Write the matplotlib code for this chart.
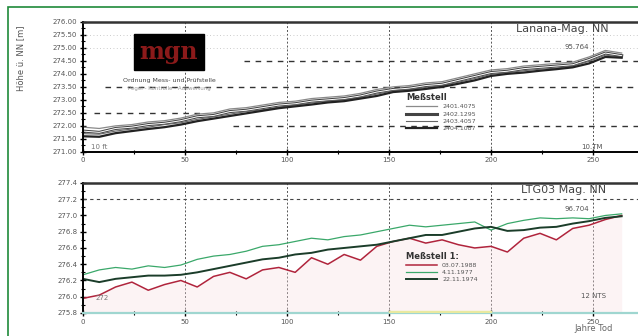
import matplotlib.pyplot as plt
from matplotlib.patches import Rectangle

# days since start of record
days = [0, 8, 16, 24, 32, 40, 48, 56, 64, 72, 80, 88, 96, 104, 112, 120, 128,
        136, 144, 152, 160, 168, 176, 184, 192, 200, 208, 216, 224, 232, 240,
        248, 256, 264]

# upper panel: water levels of four gauges (m NN)
gauge_a = [271.95, 271.90, 272.00, 272.05, 272.15, 272.20, 272.30, 272.45, 272.50,
           272.65, 272.70, 272.80, 272.90, 272.95, 273.05, 273.10, 273.15, 273.25,
           273.40, 273.50, 273.55, 273.65, 273.70, 273.85, 274.00, 274.15, 274.20,
           274.30, 274.35, 274.40, 274.45, 274.65, 274.90, 274.80]
gauge_b = [271.80, 271.75, 271.90, 271.95, 272.05, 272.10, 272.20, 272.35, 272.40,
           272.55, 272.60, 272.70, 272.80, 272.85, 272.95, 273.00, 273.05, 273.15,
           273.30, 273.40, 273.45, 273.55, 273.60, 273.75, 273.90, 274.05, 274.10,
           274.20, 274.25, 274.30, 274.35, 274.55, 274.80, 274.70]
gauge_c = [271.70, 271.68, 271.80, 271.88, 271.95, 272.05, 272.12, 272.25, 272.35,
           272.45, 272.55, 272.62, 272.72, 272.80, 272.88, 272.95, 273.00, 273.10,
           273.22, 273.35, 273.40, 273.48, 273.55, 273.68, 273.82, 273.98, 274.05,
           274.12, 274.18, 274.22, 274.30, 274.48, 274.72, 274.65]
gauge_d = [271.60, 271.58, 271.72, 271.80, 271.88, 271.95, 272.05, 272.18, 272.28,
           272.38, 272.48, 272.58, 272.68, 272.75, 272.82, 272.90, 272.95, 273.05,
           273.15, 273.30, 273.35, 273.42, 273.50, 273.62, 273.75, 273.92, 274.00,
           274.05, 274.12, 274.18, 274.25, 274.40, 274.65, 274.62]
upper_labels = ['2401.4075', '2402.1295', '2403.4057', '2404.1087']

# lower panel: gauge 1 in three different years
year_red = [275.98, 276.02, 276.12, 276.18, 276.08, 276.15, 276.20, 276.12, 276.25,
            276.30, 276.22, 276.33, 276.36, 276.30, 276.48, 276.40, 276.52, 276.45,
            276.62, 276.68, 276.72, 276.66, 276.70, 276.64, 276.60, 276.62, 276.55,
            276.72, 276.78, 276.70, 276.84, 276.88, 276.95, 277.00]
year_light = [276.27, 276.33, 276.36, 276.34, 276.38, 276.36, 276.39, 276.46, 276.50,
              276.52, 276.56, 276.62, 276.64, 276.68, 276.72, 276.70, 276.74, 276.76,
              276.80, 276.84, 276.88, 276.86, 276.88, 276.90, 276.92, 276.82, 276.90,
              276.94, 276.97, 276.96, 276.97, 276.96, 277.00, 277.02]
year_dark = [276.22, 276.18, 276.22, 276.24, 276.26, 276.26, 276.27, 276.30, 276.34,
             276.38, 276.42, 276.46, 276.48, 276.52, 276.54, 276.58, 276.60, 276.62,
             276.64, 276.68, 276.72, 276.76, 276.76, 276.80, 276.84, 276.86, 276.81,
             276.82, 276.85, 276.86, 276.90, 276.93, 276.97, 276.99]
lower_labels = ['03.07.1988', '4.11.1977', '22.11.1974']

upper_ticks = [271.0, 271.5, 272.0, 272.5, 273.0, 273.5, 274.0, 274.5, 275.0, 275.5, 276.0]
lower_ticks = [275.8, 276.0, 276.2, 276.4, 276.6, 276.8, 277.0, 277.2, 277.4]
x_ticks = [0, 50, 100, 150, 200, 250]

plt.rcParams['font.family'] = 'DejaVu Sans'
fig = plt.figure(figsize=(6.38, 3.36), dpi=100)
fig.patch.set_facecolor('white')

# green frame, only its top and left edges fall on the sheet
fig.patches.append(Rectangle((8 / 638, -0.05), 1.0, 1 - 7 / 336 + 0.05, transform=fig.transFigure,
                             fill=False, edgecolor='#1f8a3a', linewidth=1.2))

ax1 = fig.add_axes([0.130, 0.548, 0.870, 0.387])
ax2 = fig.add_axes([0.130, 0.0685, 0.870, 0.387])

for ax in (ax1, ax2):
    ax.set_xlim(0, 272)
    ax.set_xticks(x_ticks)
    ax.set_xticks([25, 75, 125, 175, 225], minor=True)
    ax.spines['right'].set_visible(False)
    ax.spines['top'].set_linewidth(1.8)
    ax.spines['top'].set_color('#333333')
    ax.spines['left'].set_linewidth(1.4)
    ax.tick_params(axis='both', labelsize=5, labelcolor='#555555', length=4, width=1.0,
                   direction='inout', pad=2)
    ax.tick_params(which='minor', length=3, width=0.8, direction='inout')
    for x in x_ticks[1:]:
        ax.axvline(x, color='#555555', linewidth=0.7, linestyle=(0, (2, 2)), zorder=1)

# upper panel
ax1.set_ylim(271.0, 276.0)
ax1.set_yticks(upper_ticks)
ax1.set_yticklabels(['%.2f' % v for v in upper_ticks])
ax1.set_yticks([v + 0.25 for v in upper_ticks[:-1]], minor=True)
ax1.spines['bottom'].set_linewidth(1.4)
ax1.axhline(274.5, xmin=0.29, xmax=1, color='#333333', linewidth=1.0, linestyle=(0, (4, 4)))
ax1.axhline(273.5, xmin=0.04, xmax=1, color='#333333', linewidth=1.0, linestyle=(0, (4, 4)))
ax1.axhline(272.5, xmin=0.02, xmax=0.22, color='#333333', linewidth=1.0, linestyle=(0, (4, 4)))
ax1.axhline(272.0, xmin=0.27, xmax=1, color='#333333', linewidth=1.0, linestyle=(0, (4, 4)))
for v in (275.5, 275.0):
    ax1.axhline(v, color='#bbbbbb', linewidth=0.6, linestyle=(0, (1, 3)))

ax1.plot(days, gauge_a, color='#8a8a8a', linewidth=0.9, label=upper_labels[0])
ax1.plot(days, gauge_b, color='#444444', linewidth=2.2, label=upper_labels[1])
ax1.plot(days, gauge_b, color='white', linewidth=0.7)
ax1.plot(days, gauge_c, color='#666666', linewidth=0.8, label=upper_labels[2])
ax1.plot(days, gauge_d, color='#222222', linewidth=1.6, label=upper_labels[3])
leg1 = ax1.legend(loc='upper left', bbox_to_anchor=(0.575, 0.48), frameon=False,
                  fontsize=4.5, title='Meßstell', title_fontsize=6, handlelength=5,
                  labelspacing=0.3, borderpad=0.1, alignment='left')
leg1.get_title().set_fontweight('bold')
leg1.get_title().set_color('#333333')
for t in leg1.get_texts():
    t.set_color('#555555')

ax1.set_ylabel('Höhe ü. NN [m]', fontsize=6, color='#555555', labelpad=8)
ax1.yaxis.set_label_coords(-0.105, 0.72)
ax1.text(0.78, 0.985, 'Lanana-Mag. NN', transform=ax1.transAxes, ha='left', va='top',
         fontsize=8, color='#444444', clip_on=False)
ax1.text(236, 274.95, '95.764', fontsize=5, color='#555555')
ax1.text(244, 271.1, '10.TM', fontsize=5, color='#555555')
ax1.text(4, 271.1, '10 ft', fontsize=5, color='#777777')

# logo block
ax1.text(0.155, 0.77, 'mgn', transform=ax1.transAxes, ha='center', va='center',
         fontsize=17, color='#8b1a1a', fontweight='bold', family='serif',
         bbox=dict(boxstyle='square,pad=0.25', facecolor='black', edgecolor='black'))
ax1.text(0.155, 0.55, 'Ordnung Mess- und Prüfstelle', transform=ax1.transAxes,
         ha='center', va='center', fontsize=4.5, color='#444444')
ax1.text(0.155, 0.49, 'Pegel - Kontrolle - Auswertung', transform=ax1.transAxes,
         ha='center', va='center', fontsize=4, color='#999999')

# lower panel
ax2.set_ylim(275.8, 277.4)
ax2.set_yticks(lower_ticks)
ax2.set_yticklabels(['%.1f' % v for v in lower_ticks])
ax2.set_yticks([v + 0.1 for v in lower_ticks[:-1]], minor=True)
ax2.spines['bottom'].set_linewidth(1.6)
ax2.spines['bottom'].set_color('#9fd6d0')
ax2.axhline(277.2, color='#444444', linewidth=0.8, linestyle=(0, (3, 3)))
ax2.axvspan(150, 200, ymin=0, ymax=0.012, color='#e9e9a0', zorder=3)

ax2.fill_between(days, 275.8, year_red, color='#f7dde2', alpha=0.35, linewidth=0)
ax2.plot(days, year_red, color='#b0243c', linewidth=1.1, label=lower_labels[0])
ax2.plot(days, year_light, color='#3aa86a', linewidth=0.9, label=lower_labels[1])
ax2.plot(days, year_dark, color='#1b3d2a', linewidth=1.4, label=lower_labels[2])
leg2 = ax2.legend(loc='upper left', bbox_to_anchor=(0.575, 0.50), frameon=False,
                  fontsize=4.5, title='Meßstell 1:', title_fontsize=6, handlelength=5,
                  labelspacing=0.3, borderpad=0.1, alignment='left')
leg2.get_title().set_fontweight('bold')
leg2.get_title().set_color('#333333')
for t in leg2.get_texts():
    t.set_color('#555555')

ax2.text(0.79, 0.985, 'LTG03 Mag. NN', transform=ax2.transAxes, ha='left', va='top',
         fontsize=8, color='#444444', clip_on=False)
ax2.text(236, 277.05, '96.704', fontsize=5, color='#555555')
ax2.text(244, 275.98, '12 NTS', fontsize=5, color='#555555')
ax2.text(6, 275.96, '272', fontsize=5, color='#777777')
fig.text(0.9, 0.01, 'Jahre Tod', ha='left', va='bottom', fontsize=6, color='#666666')

plt.savefig('out.png', dpi=100)
